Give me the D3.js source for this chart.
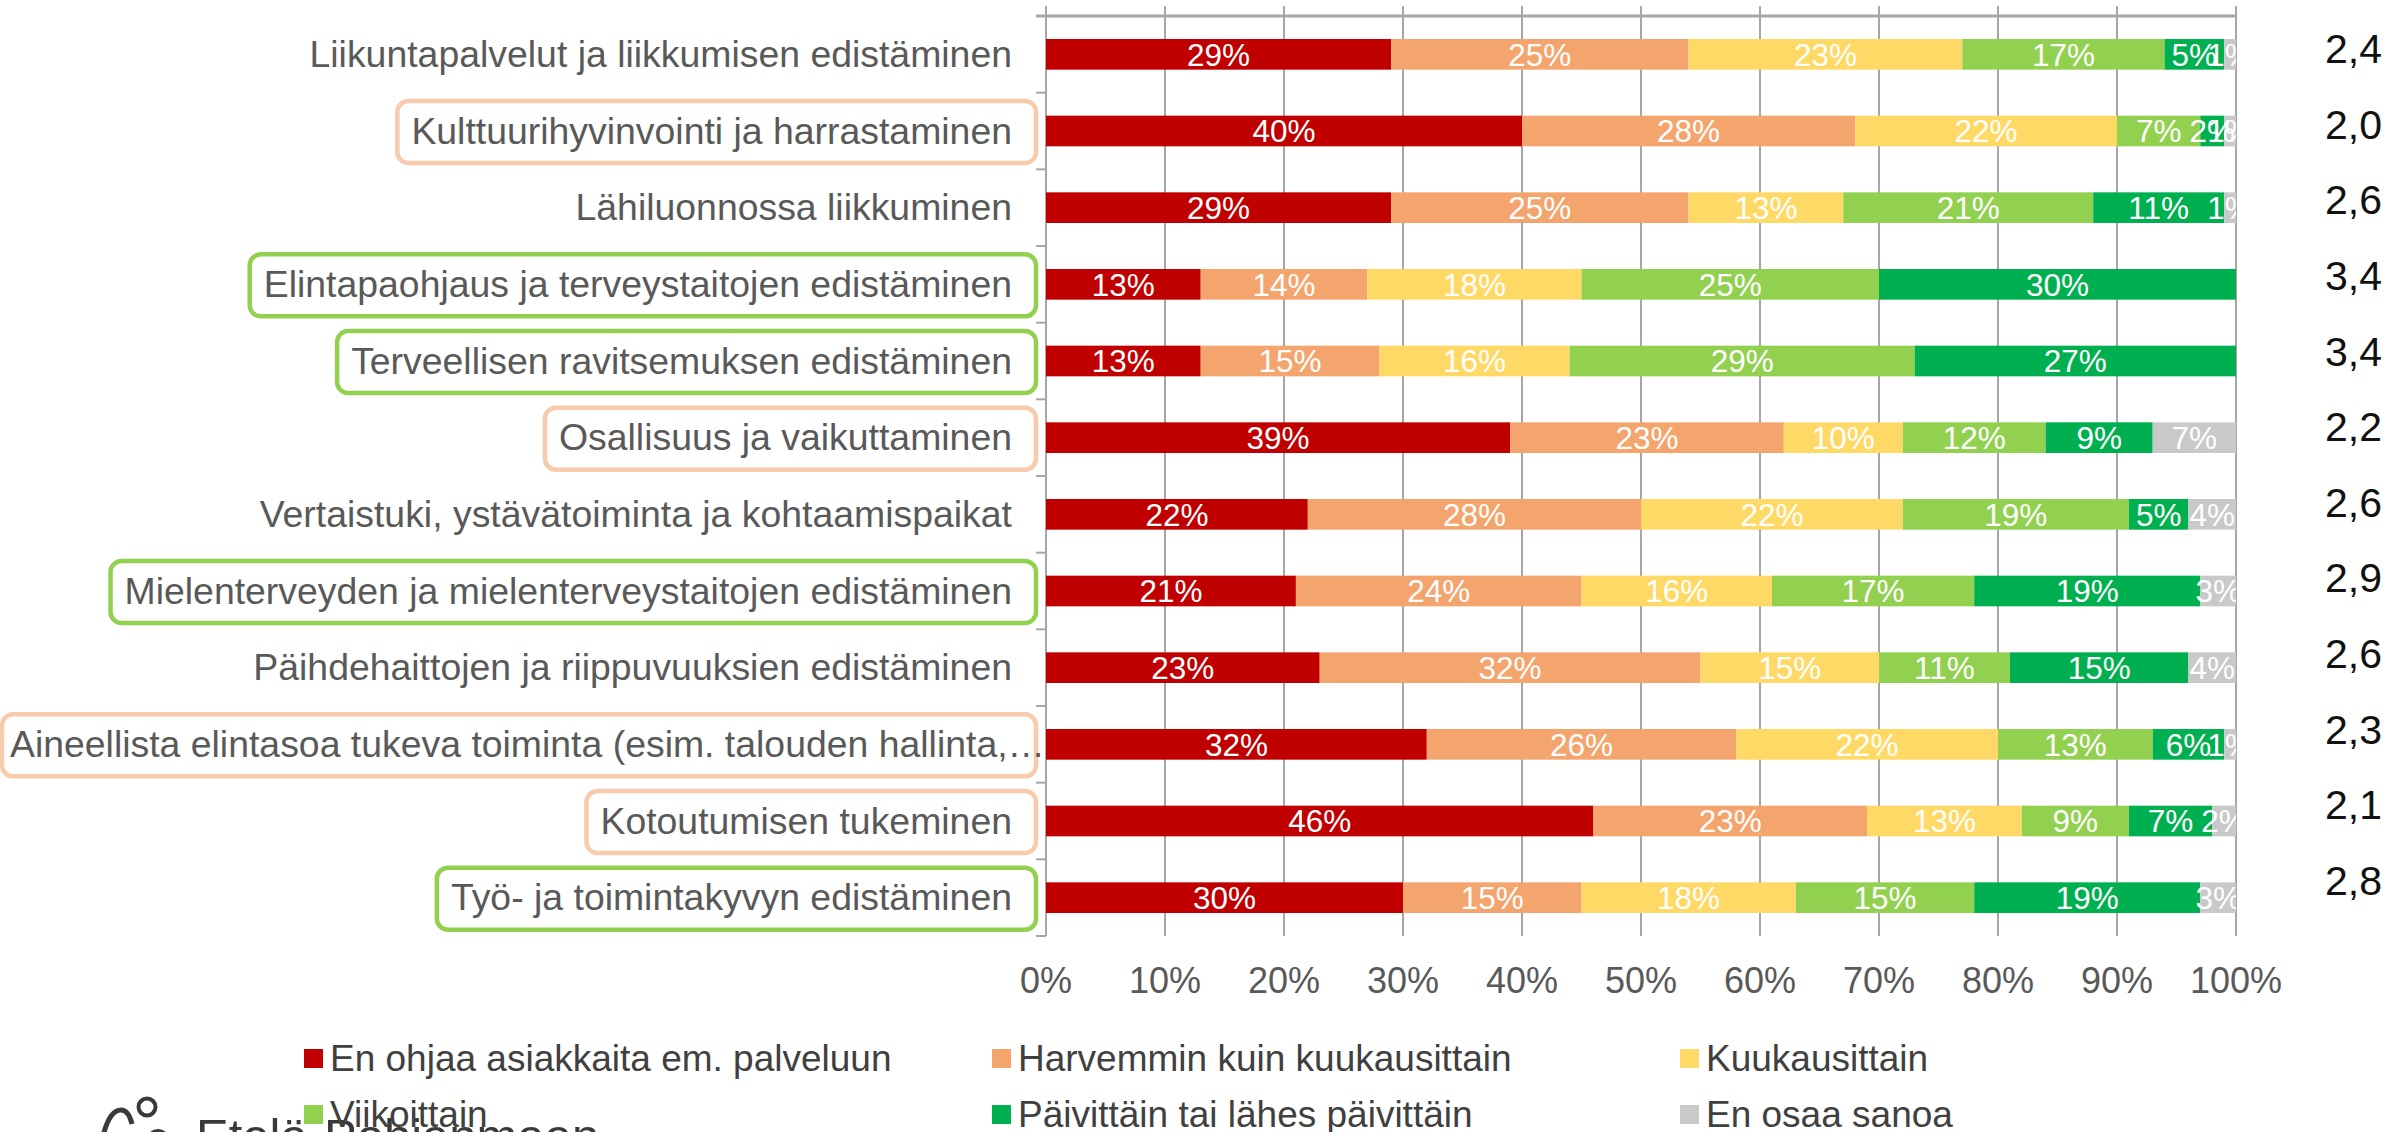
<!DOCTYPE html>
<html>
<head>
<meta charset="utf-8">
<script src="https://cdn.jsdelivr.net/npm/d3@7"></script>
<style>
  body { margin: 0; background: #fff; }
  svg { font-family: "Liberation Sans", Arial, sans-serif; display: block; }
</style>
</head>
<body>
<div id="chart"></div>
<script>
// categories (top to bottom)
var categories = [
    "Liikuntapalvelut ja liikkumisen edistäminen",
    "Kulttuurihyvinvointi ja harrastaminen",
    "Lähiluonnossa liikkuminen",
    "Elintapaohjaus ja terveystaitojen edistäminen",
    "Terveellisen ravitsemuksen edistäminen",
    "Osallisuus ja vaikuttaminen",
    "Vertaistuki, ystävätoiminta ja kohtaamispaikat",
    "Mielenterveyden ja mielenterveystaitojen edistäminen",
    "Päihdehaittojen ja riippuvuuksien edistäminen",
    "Aineellista elintasoa tukeva toiminta (esim. talouden hallinta,…",
    "Kotoutumisen tukeminen",
    "Työ- ja toimintakyvyn edistäminen"
];

// series names (legend order)
var seriesNames = [
    "En ohjaa asiakkaita em. palveluun",
    "Harvemmin kuin kuukausittain",
    "Kuukausittain",
    "Viikoittain",
    "Päivittäin tai lähes päivittäin",
    "En osaa sanoa"
];

// series values (%)
var enOhjaa       = [29, 40, 29, 13, 13, 39, 22, 21, 23, 32, 46, 30];
var harvemmin     = [25, 28, 25, 14, 15, 23, 28, 24, 32, 26, 23, 15];
var kuukausittain = [23, 22, 13, 18, 16, 10, 22, 16, 15, 22, 13, 18];
var viikoittain   = [17,  7, 21, 25, 29, 12, 19, 17, 11, 13,  9, 15];
var paivittain    = [ 5,  2, 11, 30, 27,  9,  5, 19, 15,  6,  7, 19];
var enOsaa        = [ 1,  1,  1,  0,  0,  7,  4,  3,  4,  1,  2,  3];

// averages shown on the right
var averages = ["2,4", "2,0", "2,6", "3,4", "3,4", "2,2", "2,6", "2,9", "2,6", "2,3", "2,1", "2,8"];

// which labels are framed
var highlight = [null, "orange", null, "green", "green", "orange", null, "green", null, "orange", "orange", "green"];

// tick values
var xTicks = [0, 10, 20, 30, 40, 50, 60, 70, 80, 90, 100];

var colors = ["#C00000", "#F4A46D", "#FFD966", "#92D050", "#00B050", "#C9C9C9"];
var frameColors = { orange: "#F8CBAD", green: "#92D050" };

// svg dimensions
var svgWidth = 2407;
var svgHeight = 1132;

var plot = { left: 1046, right: 2236, top: 16, bottom: 936 };

var svg = d3.select("#chart").append("svg")
    .attr("width", svgWidth)
    .attr("height", svgHeight);

// build table for the stack
var allSeries = [enOhjaa, harvemmin, kuukausittain, viikoittain, paivittain, enOsaa];
var table = categories.map(function(c, i) {
    var row = { category: c };
    seriesNames.forEach(function(s, j) { row[s] = allSeries[j][i]; });
    return row;
});
var stacked = d3.stack().keys(seriesNames)(table);

// scales
var x = d3.scaleLinear().domain([0, 100]).range([plot.left, plot.right]);
var y = d3.scaleBand().domain(categories)
    .range([plot.top, plot.bottom])
    .paddingInner(0.6)
    .paddingOuter(0.3);
var yAvg = d3.scalePoint().domain(categories).range([63, 895]);

// vertical gridlines
svg.append("g").selectAll("line")
    .data(xTicks)
    .enter()
    .append("line")
    .attr("x1", d => x(d)).attr("x2", d => x(d))
    .attr("y1", plot.top - 10).attr("y2", plot.bottom)
    .attr("stroke", "#A6A6A6")
    .attr("stroke-width", 2);

// top axis line
svg.append("line")
    .attr("x1", plot.left - 10).attr("x2", plot.right + 1)
    .attr("y1", plot.top).attr("y2", plot.top)
    .attr("stroke", "#A6A6A6")
    .attr("stroke-width", 3);

// left axis line + ticks at band boundaries
svg.append("line")
    .attr("x1", plot.left).attr("x2", plot.left)
    .attr("y1", plot.top).attr("y2", plot.bottom)
    .attr("stroke", "#A6A6A6")
    .attr("stroke-width", 2);

var bounds = d3.range(categories.length + 1).map(i => plot.top + i * y.step());
svg.append("g").selectAll("line")
    .data(bounds)
    .enter()
    .append("line")
    .attr("x1", plot.left - 10).attr("x2", plot.left)
    .attr("y1", d => d).attr("y2", d => d)
    .attr("stroke", "#A6A6A6")
    .attr("stroke-width", 2);

// bars
var layers = svg.append("g").selectAll("g")
    .data(stacked)
    .enter()
    .append("g")
    .attr("fill", (d, i) => colors[i]);

layers.selectAll("rect")
    .data(d => d)
    .enter()
    .append("rect")
    .attr("x", d => x(d[0]))
    .attr("y", d => y(d.data.category))
    .attr("width", d => x(d[1]) - x(d[0]))
    .attr("height", y.bandwidth());

// segment labels, clipped to plot area
svg.append("clipPath").attr("id", "plotClip")
    .append("rect")
    .attr("x", plot.left).attr("y", 0)
    .attr("width", plot.right - plot.left).attr("height", plot.bottom);

var labelGroup = svg.append("g").attr("clip-path", "url(#plotClip)");
stacked.forEach(function(layer) {
    labelGroup.selectAll(null)
        .data(layer.filter(d => d[1] - d[0] > 0))
        .enter()
        .append("text")
        .attr("x", d => (x(d[0]) + x(d[1])) / 2)
        .attr("y", d => y(d.data.category) + y.bandwidth() / 2)
        .attr("dy", "0.36em")
        .attr("text-anchor", "middle")
        .attr("font-size", "31.5px")
        .attr("fill", "#fff")
        .text(d => (d[1] - d[0]) + "%");
});

// category labels
var catLabels = svg.append("g").selectAll("text")
    .data(categories)
    .enter()
    .append("text")
    .attr("x", d => d.endsWith("…") ? plot.left - 1 : plot.left - 34)
    .attr("y", d => y(d) + y.bandwidth() / 2)
    .attr("dy", "0.34em")
    .attr("text-anchor", "end")
    .attr("font-size", "37.4px")
    .attr("fill", "#595959")
    .text(d => d);

// frames around highlighted labels
catLabels.each(function(d, i) {
    if (!highlight[i]) return;
    var b = this.getBBox();
    var left = Math.max(2, b.x - 14);
    var cy = y(d) + y.bandwidth() / 2 + 1;
    svg.insert("rect", ":first-child")
        .attr("x", left)
        .attr("y", cy - 31)
        .attr("width", plot.left - 10 - left)
        .attr("height", 62)
        .attr("rx", 11)
        .attr("fill", "none")
        .attr("stroke", frameColors[highlight[i]])
        .attr("stroke-width", 4.5);
});

// x tick labels
svg.append("g").selectAll("text")
    .data(xTicks)
    .enter()
    .append("text")
    .attr("x", d => x(d))
    .attr("y", 993)
    .attr("text-anchor", "middle")
    .attr("font-size", "36px")
    .attr("fill", "#595959")
    .text(d => d + "%");

// averages
svg.append("g").selectAll("text")
    .data(averages)
    .enter()
    .append("text")
    .attr("x", 2325)
    .attr("y", (d, i) => yAvg(categories[i]))
    .attr("font-size", "41px")
    .attr("fill", "#111")
    .text(d => d);

// legend
var legend = svg.append("g").selectAll("g")
    .data(seriesNames)
    .enter()
    .append("g")
    .attr("transform", (d, i) => `translate(${304 + (i % 3) * 688}, ${1049 + Math.floor(i / 3) * 56})`);

legend.append("rect")
    .attr("width", 19).attr("height", 19)
    .attr("fill", (d, i) => colors[i]);

legend.append("text")
    .attr("x", 26)
    .attr("y", 9.5)
    .attr("dy", "0.35em")
    .attr("font-size", "37px")
    .attr("fill", "#404040")
    .text(d => d);

// logo at bottom left (partly cut off)
var logo = svg.insert("g", ":first-child")
    .attr("stroke", "#3a3a3a")
    .attr("fill", "none")
    .attr("stroke-width", 5);
logo.append("path")
    .attr("d", "M103,1136 C107,1120 113,1110 121,1110 C127,1110 130,1116 132,1124");
logo.append("circle")
    .attr("cx", 147).attr("cy", 1107).attr("r", 8.5)
    .attr("stroke-width", 4);
logo.append("circle")
    .attr("cx", 158).attr("cy", 1141).attr("r", 10)
    .attr("stroke-width", 4);
svg.insert("text", ":first-child")
    .attr("x", 196)
    .attr("y", 1153)
    .attr("font-size", "49px")
    .attr("fill", "#3a3a3a")
    .text("Etelä-Pohjanmaan");
</script>
</body>
</html>
